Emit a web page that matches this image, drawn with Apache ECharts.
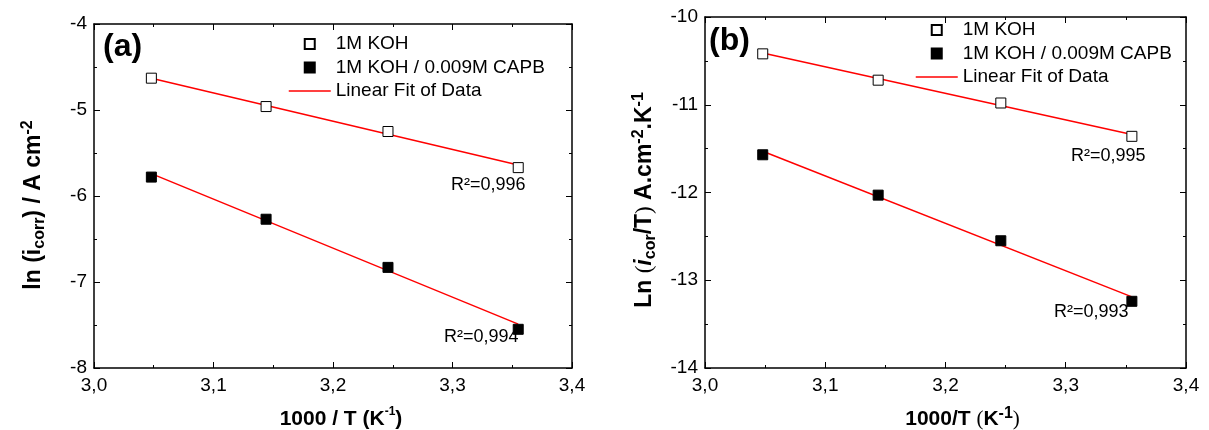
<!DOCTYPE html>
<html>
<head>
<meta charset="utf-8">
<script src="https://cdn.jsdelivr.net/npm/echarts@6/dist/echarts.min.js"></script>
<style>html,body{margin:0;padding:0;background:#fff}#c{width:1209px;height:430px}</style>
</head>
<body>
<div id="c"></div>
<script>
// ---- data ----
const invT = [3.048, 3.144, 3.246, 3.355];            // 1000/T (K^-1)
const aKOH  = [-4.63, -4.96, -5.25, -5.67];            // ln(icorr), 1M KOH
const aCAPB = [-5.78, -6.27, -6.83, -7.55];            // ln(icorr), 1M KOH / 0.009M CAPB
const aFitKOH  = [-4.63, -5.64];                       // fit endpoints
const aFitCAPB = [-5.74, -7.49];
const bKOH  = [-10.42, -10.72, -10.98, -11.36];        // ln(icor/T), 1M KOH
const bCAPB = [-11.57, -12.03, -12.55, -13.24];        // ln(icor/T), CAPB
const bFitKOH  = [-10.41, -11.34];
const bFitCAPB = [-11.53, -13.19];
const fitX = [3.048, 3.355];
const r2a = ['R²=0,996', 'R²=0,994'];
const r2b = ['R²=0,995', 'R²=0,993'];
const names = ['1M KOH', '1M KOH / 0.009M CAPB', 'Linear Fit of Data'];

const FONT = 'Liberation Sans, Arial, sans-serif';
const pts = (xs, ys) => xs.map((x, i) => [x, ys[i]]);

function xAxes(grid, nameRich, nameText) {
  const base = {
    type: 'value', gridIndex: grid, min: 3.0, max: 3.4, interval: 0.1,
    axisLine: { show: true, onZero: false, lineStyle: { color: '#000', width: 1.5 } },
    axisTick: { show: true, inside: true, length: 6, lineStyle: { color: '#000', width: 1 } },
    minorTick: { show: true, splitNumber: 2, length: 3, lineStyle: { color: '#000', width: 1 } },
    splitLine: { show: false }, minorSplitLine: { show: false }
  };
  return [
    Object.assign({}, base, {
      position: 'bottom',
      axisLabel: { show: true, margin: 8, color: '#000', fontSize: 19, fontFamily: FONT,
        formatter: v => v.toFixed(1).replace('.', ',') },
      name: nameText, nameLocation: 'middle', nameGap: 38, nameMoveOverlap: false,
      nameTextStyle: { color: '#000', fontSize: 21, fontWeight: 'bold', fontFamily: FONT, lineHeight: 26, rich: nameRich }
    }),
    Object.assign({}, base, { position: 'top', axisLabel: { show: false } })
  ];
}
function yAxes(grid, min, max, nameRich, nameText) {
  const base = {
    type: 'value', gridIndex: grid, min: min, max: max, interval: 1,
    axisLine: { show: true, onZero: false, lineStyle: { color: '#000', width: 1.5 } },
    axisTick: { show: true, inside: true, length: 6, lineStyle: { color: '#000', width: 1 } },
    minorTick: { show: true, splitNumber: 2, length: 3, lineStyle: { color: '#000', width: 1 } },
    splitLine: { show: false }, minorSplitLine: { show: false }
  };
  return [
    Object.assign({}, base, {
      position: 'left',
      axisLabel: { show: true, margin: 7, color: '#000', fontSize: 19, fontFamily: FONT },
      name: nameText, nameLocation: 'middle', nameRotate: 90, nameGap: 46, nameMoveOverlap: false,
      nameTextStyle: { color: '#000', fontSize: 23, fontWeight: 'bold', fontFamily: FONT, lineHeight: 28, rich: nameRich }
    }),
    Object.assign({}, base, { position: 'right', axisLabel: { show: false } })
  ];
}

const richA = {
  b: { fontSize: 23, fontWeight: 'bold', fontFamily: FONT, color: '#000', lineHeight: 28 },
  sub: { fontSize: 16, fontWeight: 'bold', fontFamily: FONT, color: '#000', lineHeight: 16, verticalAlign: 'bottom' },
  sup: { fontSize: 16, fontWeight: 'bold', fontFamily: FONT, color: '#000', lineHeight: 16, verticalAlign: 'top' },
  sp: { width: 18, lineHeight: 28 }
};
const richB = Object.assign({}, richA, {
  p: { fontSize: 23, fontWeight: 'normal', fontFamily: 'Liberation Serif, serif', color: '#000', lineHeight: 28 },
  i: { fontSize: 23, fontWeight: 'bold', fontStyle: 'italic', fontFamily: FONT, color: '#000', lineHeight: 28 },
  sp: { width: 15, lineHeight: 28 }
});
const richXA = {
  b: { fontSize: 21, fontWeight: 'bold', fontFamily: FONT, color: '#000', lineHeight: 26 },
  sup: { fontSize: 12, fontWeight: 'bold', fontFamily: FONT, color: '#000', lineHeight: 12, verticalAlign: 'top' },
  sp: { width: 16, lineHeight: 26 }
};
const richXB = {
  b: { fontSize: 21, fontWeight: 'bold', fontFamily: FONT, color: '#000', lineHeight: 26 },
  p: { fontSize: 21, fontWeight: 'normal', fontFamily: 'Liberation Serif, serif', color: '#000', lineHeight: 26 },
  sup: { fontSize: 16, fontWeight: 'bold', fontFamily: FONT, color: '#000', lineHeight: 14, verticalAlign: 'top' },
  sp: { width: 34, lineHeight: 26 }
};

function scatter(name, xi, yi, data, filled) {
  return {
    type: 'scatter', name: name, xAxisIndex: xi, yAxisIndex: yi, data: data,
    symbol: 'rect', symbolSize: 10,
    itemStyle: filled ? { color: '#000', borderColor: '#000', borderWidth: 1, opacity: 1 }
                      : { color: '#fff', borderColor: '#000', borderWidth: 1, opacity: 1 },
    emphasis: { disabled: true }, z: 3
  };
}
function fit(xi, yi, ys) {
  return {
    type: 'line', name: names[2], xAxisIndex: xi, yAxisIndex: yi, data: pts(fitX, ys),
    symbol: 'none', lineStyle: { color: '#ff0000', width: 1.5 }, itemStyle: { color: '#ff0000' },
    emphasis: { disabled: true }, z: 2
  };
}

const SQ = 'path://M0,0L10,0L10,10L0,10Z';
const legendBase = {
  orient: 'vertical', itemWidth: 42, itemHeight: 10, itemGap: 1.5, padding: 0,
  symbolKeepAspect: true,
  textStyle: { color: '#000', fontSize: 19, fontFamily: FONT, lineHeight: 22 },
  data: [
    { name: names[0], icon: SQ },
    { name: names[1], icon: SQ },
    { name: names[2], itemStyle: { color: 'transparent', borderColor: 'transparent', borderWidth: 0, opacity: 0 },
      lineStyle: { color: '#ff0000', width: 1.5, opacity: 1 } }
  ],
  selectedMode: false
};

const txt = (x, y, text, font) => ({
  type: 'text', x: x, y: y, silent: true,
  style: { text: text, font: font, fill: '#000', align: 'left', verticalAlign: 'middle' }
});

const option = {
  animation: false,
  backgroundColor: '#fff',
  grid: [
    { left: 94, right: 637, top: 24, bottom: 62, outerBoundsMode: 'none', containLabel: false },
    { left: 705, right: 23, top: 17, bottom: 62, outerBoundsMode: 'none', containLabel: false }
  ],
  xAxis: [].concat(
    xAxes(0, richXA, '{sp| }{b|1000 / T (K}{sup|-1}{b|)}'),
    xAxes(1, richXB, '{sp| }{b|1000/T }{p|(}{b|K}{sup|-1}{p|)}')
  ),
  yAxis: [].concat(
    yAxes(0, -8, -4, richA, '{b|ln (i}{sub|corr}{b|) / A cm}{sup|-2}{sp| }'),
    yAxes(1, -14, -10, richB, '{b|Ln }{p|(}{i|i}{sub|cor}{b|/T}{p|)}{b| A.cm}{sup|-2}{b|.K}{sup|-1}{sp| }')
  ),
  legend: [
    Object.assign({}, legendBase, { left: 288, top: 33 }),
    Object.assign({}, legendBase, { left: 915, top: 19 })
  ],
  series: [
    fit(0, 0, aFitKOH), fit(0, 0, aFitCAPB),
    scatter(names[0], 0, 0, pts(invT, aKOH), false),
    scatter(names[1], 0, 0, pts(invT, aCAPB), true),
    fit(2, 2, bFitKOH), fit(2, 2, bFitCAPB),
    scatter(names[0], 2, 2, pts(invT, bKOH), false),
    scatter(names[1], 2, 2, pts(invT, bCAPB), true)
  ],
  graphic: [
    txt(103, 47, '(a)', 'bold 32px ' + FONT),
    txt(709, 41, '(b)', 'bold 32px ' + FONT),
    txt(451, 185, r2a[0], '18px ' + FONT),
    txt(444, 337, r2a[1], '18px ' + FONT),
    txt(1071, 156, r2b[0], '18px ' + FONT),
    txt(1054, 312, r2b[1], '18px ' + FONT)
  ]
};

const chart = echarts.init(document.getElementById('c'), null, { renderer: 'canvas' });
chart.setOption(option);
</script>
</body>
</html>
